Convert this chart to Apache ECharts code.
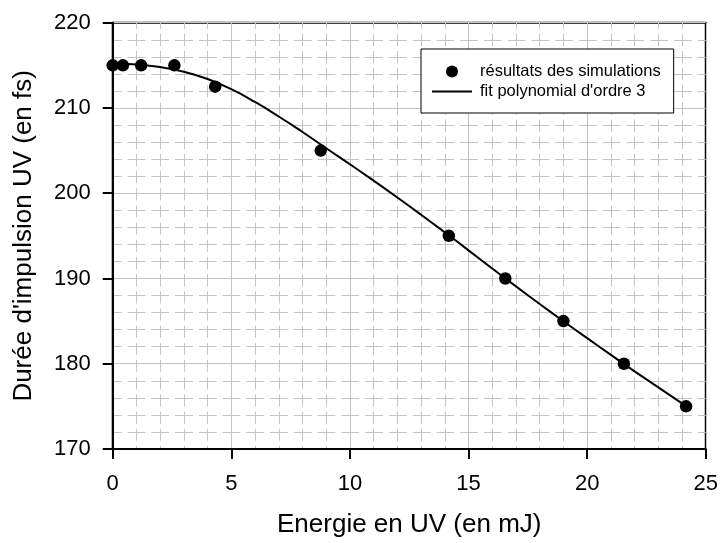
<!DOCTYPE html>
<html>
<head>
<meta charset="utf-8">
<script src="https://cdn.jsdelivr.net/npm/echarts@6/dist/echarts.min.js"></script>
<style>
  html, body { margin: 0; padding: 0; background: #ffffff; }
  #chart { width: 721px; height: 543px; }
</style>
</head>
<body>
<div id="chart"></div>
<script>
// Simulated UV pulse duration versus UV energy
const energy   = [0, 0.43, 1.2, 2.6, 4.32, 8.77, 14.17, 16.55, 19.0, 21.55, 24.17];
const duration = [215, 215, 215, 215, 212.5, 205, 195, 190, 185, 180, 175];

// Third-order polynomial fit, sampled along the energy range
const fitEnergy   = [0, 1, 2, 3, 4, 5, 6, 7, 8, 9, 10, 11, 12, 13, 14, 15, 16, 17, 18, 19, 20, 21, 22, 23, 24, 24.17];
const fitDuration = [215.2, 215.1, 214.8, 214.25, 213.4, 212.2, 210.7, 209.0, 207.18, 205.28, 203.4, 201.47, 199.5, 197.48, 195.41, 193.3, 191.17, 189.07, 187.01, 184.99, 183.0, 181.04, 179.11, 177.22, 175.36, 175.04];

const xTicks = { min: 0, max: 25, step: 5 };
const yTicks = { min: 170, max: 220, step: 10 };

const seriesNames = ['résultats des simulations', "fit polynomial d'ordre 3"];
const axisNames = { x: 'Energie en UV (en mJ)', y: "Durée d'impulsion UV (en fs)" };

const FONT = '"Liberation Sans", Arial, Helvetica, sans-serif';
const GRID_GREY = '#c4c4c4';

const chart = echarts.init(document.getElementById('chart'), null, { renderer: 'canvas' });

function zip(a, b) { return a.map((v, i) => [v, b[i]]); }

chart.setOption({
  backgroundColor: '#ffffff',
  animation: false,
  textStyle: { fontFamily: FONT },
  grid: {
    left: 112.7, right: 14.3, top: 22.7, bottom: 91,
    show: true, borderColor: '#000', borderWidth: 2, backgroundColor: '#ffffff'
  },
  legend: {
    orient: 'vertical',
    left: 421, top: 49,
    padding: [14, 13, 13, 11],
    itemGap: 3,
    itemWidth: 40, itemHeight: 12,
    symbolKeepAspect: true,
    borderColor: '#000', borderWidth: 1,
    backgroundColor: '#ffffff',
    textStyle: { fontFamily: FONT, fontSize: 16.5, color: '#000', padding: [0, 0, 0, 3] },
    data: [
      { name: seriesNames[0], icon: 'circle' },
      { name: seriesNames[1], icon: 'path://M0,0H40V2H0Z' }
    ]
  },
  xAxis: {
    type: 'value',
    min: xTicks.min, max: xTicks.max, interval: xTicks.step,
    name: axisNames.x,
    nameLocation: 'middle',
    nameGap: 63,
    nameTextStyle: { fontFamily: FONT, fontSize: 26, color: '#000' },
    axisLine: { show: true, onZero: false, lineStyle: { color: '#000', width: 2 } },
    axisTick: { show: true, length: 10, lineStyle: { color: '#000', width: 2 } },
    axisLabel: { margin: 24, fontFamily: FONT, fontSize: 22, color: '#000' },
    splitLine: { show: true, lineStyle: { color: GRID_GREY, width: 1 } },
    minorTick: { show: false, splitNumber: 5 },
    // vertical minor lines: dashes centred on the horizontal grid lines
    minorSplitLine: { show: true, lineStyle: { color: GRID_GREY, width: 1, type: [12.17, 5], dashOffset: 6.085 } }
  },
  yAxis: {
    type: 'value',
    min: yTicks.min, max: yTicks.max, interval: yTicks.step,
    name: axisNames.y,
    nameLocation: 'middle',
    nameGap: 76,
    nameTextStyle: { fontFamily: FONT, fontSize: 26, color: '#000' },
    axisLine: { show: true, onZero: false, lineStyle: { color: '#000', width: 2 } },
    axisTick: { show: true, length: 10, lineStyle: { color: '#000', width: 2 } },
    axisLabel: { margin: 22, fontFamily: FONT, fontSize: 22, color: '#000' },
    splitLine: { show: true, lineStyle: { color: GRID_GREY, width: 1 } },
    minorTick: { show: false, splitNumber: 5 },
    // horizontal minor lines: dashes centred on the vertical grid lines
    minorSplitLine: { show: true, lineStyle: { color: GRID_GREY, width: 1, type: [17.76, 6], dashOffset: 8.88 } }
  },
  series: [
    {
      name: seriesNames[0],
      type: 'scatter',
      data: zip(energy, duration),
      symbol: 'circle',
      symbolSize: 12.5,
      itemStyle: { color: '#000', opacity: 1 },
      z: 4
    },
    {
      name: seriesNames[1],
      type: 'line',
      data: zip(fitEnergy, fitDuration),
      smooth: true,
      symbol: 'none',
      lineStyle: { color: '#000', width: 2 },
      itemStyle: { color: '#000' },
      z: 3
    }
  ]
});
</script>
</body>
</html>
